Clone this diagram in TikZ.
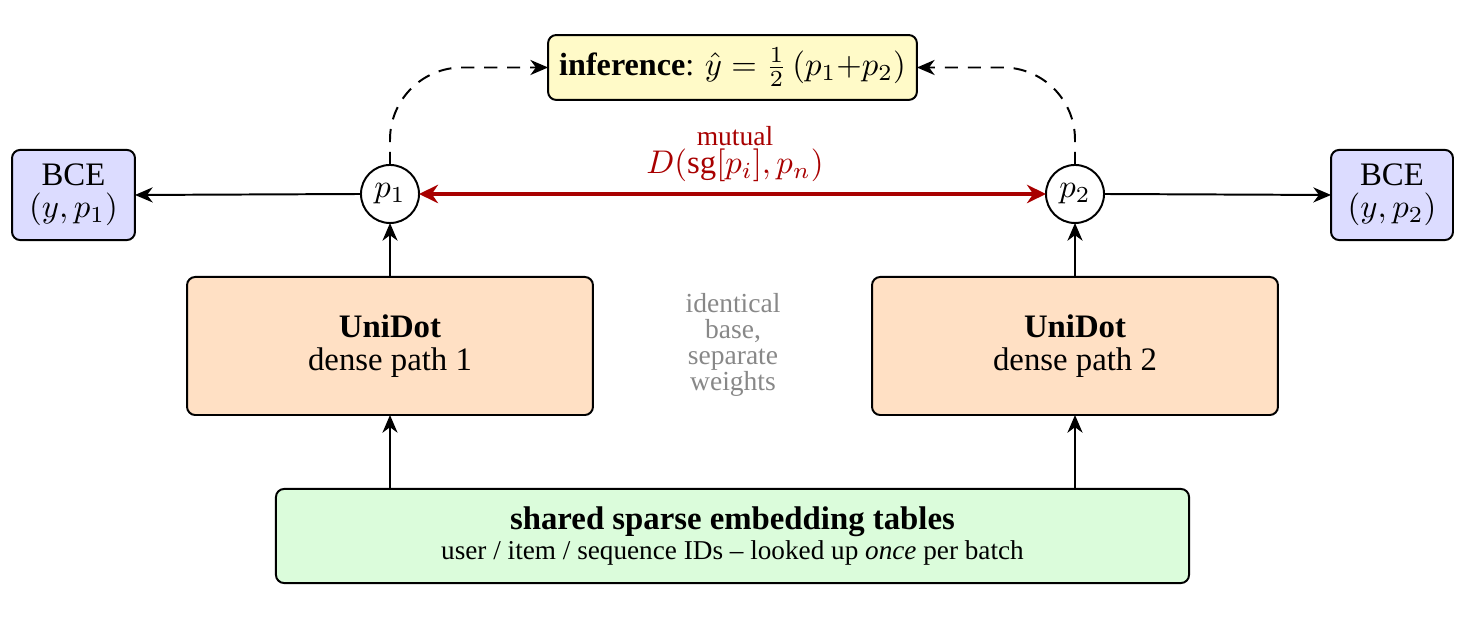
\documentclass[tikz,border=0pt]{standalone}
\usepackage{amsmath}
\usepackage{fontspec}
\setmainfont{Liberation Serif}
\usetikzlibrary{arrows.meta}
\definecolor{bcefill}{HTML}{DCDCFF}
\definecolor{unifill}{HTML}{FFE0C4}
\definecolor{shfill}{HTML}{DBFCDB}
\definecolor{inffill}{HTML}{FFFAC8}
\definecolor{mred}{HTML}{A80000}
\definecolor{gtext}{HTML}{888888}
\begin{document}
\begin{tikzpicture}[x=0.305pt,y=-0.305pt,
  box/.style={draw, rounded corners=2.5pt, line width=0.6pt, align=center, inner sep=0pt, outer sep=0pt},
  pnode/.style={draw, circle, minimum size=17.7pt, inner sep=0pt, outer sep=0pt, line width=0.6pt},
  arr/.style={-{Stealth[length=5.4pt,width=4.6pt,inset=1.7pt]}, line width=0.6pt},
  darr/.style={arr, dash pattern=on 4pt off 3pt},
  redarr/.style={{Stealth[length=5.8pt,width=5.6pt,inset=1.9pt]}-{Stealth[length=5.8pt,width=5.6pt,inset=1.9pt]}, line width=1.2pt, draw=mred}]
\useasboundingbox (0,0) rectangle (1458,624);

\node[box, fill=bcefill, minimum width=37.5pt, minimum height=27.5pt, font=\fontsize{10pt}{9.8pt}\selectfont] (bce1) at (73.5,195) {BCE\\$(y,p_1)$};
\node[box, fill=bcefill, minimum width=37.2pt, minimum height=27.5pt, font=\fontsize{10pt}{9.8pt}\selectfont] (bce2) at (1392,195) {BCE\\$(y,p_2)$};
\node[box, fill=inffill, minimum width=112.5pt, minimum height=19.8pt, font=\fontsize{9.8pt}{11pt}\selectfont] (inf) at (732.5,67.5) {\textbf{inference}: $\hat{y} = \tfrac12\,(p_1{+}p_2)$};
\node[box, fill=unifill, minimum width=123.8pt, minimum height=42.1pt, font=\fontsize{10pt}{10pt}\selectfont] (u1) at (390,346) {\textbf{UniDot}\\dense path 1};
\node[box, fill=unifill, minimum width=123.8pt, minimum height=42.1pt, font=\fontsize{10pt}{10pt}\selectfont] (u2) at (1075,346) {\textbf{UniDot}\\dense path 2};
\node[box, fill=shfill, minimum width=278.5pt, minimum height=28.7pt, font=\fontsize{10pt}{9.2pt}\selectfont] (sh) at (732.5,536) {\textbf{shared sparse embedding tables}\\\fontsize{8.3pt}{9.2pt}\selectfont user / item / sequence IDs -- looked up \textit{once} per batch};
\node[pnode] (p1) at (390,194) {$p_1$};
\node[pnode] (p2) at (1075,194) {$p_2$};

\node[text=mred, align=center, font=\fontsize{8.4pt}{8.5pt}\selectfont] (mut) at (735,154) {mutual\\\fontsize{10pt}{8.5pt}\selectfont$D(\mathrm{sg}[p_i],p_n)$};
\node[text=gtext, align=center, font=\fontsize{8.4pt}{7.9pt}\selectfont] (ident) at (733,345) {identical\\base,\\separate\\weights};

\coordinate (s1) at (sh.north -| u1);
\coordinate (s2) at (sh.north -| u2);
\draw[arr] (s1) -- (u1.south);
\draw[arr] (s2) -- (u2.south);
\draw[arr] (u1.north) -- (p1.south);
\draw[arr] (u2.north) -- (p2.south);
\draw[arr] (p1.west) -- (bce1.east);
\draw[arr] (p2.east) -- (bce2.west);
\draw[redarr] (p1.east) -- (p2.west);
\draw[darr, rounded corners=22pt] (p1.north) |- (inf.west);
\draw[darr, rounded corners=22pt] (p2.north) |- (inf.east);
\end{tikzpicture}
\end{document}
